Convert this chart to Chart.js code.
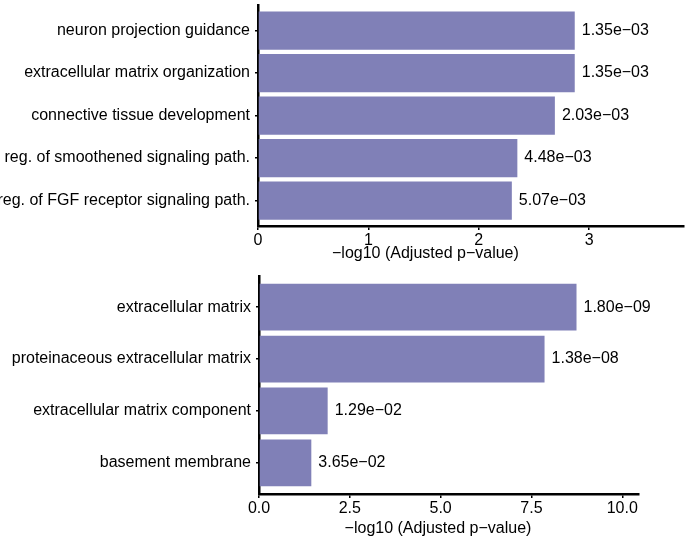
<!DOCTYPE html>
<html>
<head>
<meta charset="utf-8">
<script src="https://cdn.jsdelivr.net/npm/chart.js@4"></script>
<style>
  html, body { margin: 0; padding: 0; background: #fff; }
  #wrap { position: relative; width: 691px; height: 543px; }
  .box { position: absolute; left: 0; width: 691px; }
  #box-bp { top: 0; height: 270px; }
  #box-cc { top: 270px; height: 273px; }
</style>
</head>
<body>
<div id="wrap">
  <div class="box" id="box-bp"><canvas id="chart-bp"></canvas></div>
  <div class="box" id="box-cc"><canvas id="chart-cc"></canvas></div>
</div>
<script>
// ── Data ──────────────────────────────────────────────────────
const BP_TERMS  = ['neuron projection guidance', 'extracellular matrix organization', 'connective tissue development',
                   'reg. of smoothened signaling path.', 'reg. of FGF receptor signaling path.'];
const BP_SCORES = [2.87, 2.87, 2.69, 2.35, 2.30];          // −log10 adj. p
const BP_PVALS  = ['1.35e−03', '1.35e−03', '2.03e−03', '4.48e−03', '5.07e−03'];
const BP_TICKS  = [0, 1, 2, 3];

const CC_TERMS  = ['extracellular matrix', 'proteinaceous extracellular matrix',
                   'extracellular matrix component', 'basement membrane'];
const CC_SCORES = [8.74, 7.86, 1.89, 1.44];
const CC_PVALS  = ['1.80e−09', '1.38e−08', '1.29e−02', '3.65e−02'];
const CC_TICKS  = [0, 2.5, 5, 7.5, 10];

const X_TITLE = '−log10 (Adjusted p−value)';

const FONT = { family: "'Liberation Sans', Arial, Helvetica, sans-serif", size: 16 };
const BAR_COLOR = '#8080b7';

// ── Plugins: p-value labels + offset axis title ───────────────
const pvalLabels = {
  id: 'pvalLabels',
  afterDatasetsDraw(chart) {
    const ctx = chart.ctx;
    const texts = chart.options.plugins.pvalLabels.texts;
    const meta = chart.getDatasetMeta(0);
    ctx.save();
    ctx.font = `${FONT.size}px ${FONT.family}`;
    ctx.fillStyle = '#000';
    ctx.textAlign = 'left';
    ctx.textBaseline = 'middle';
    meta.data.forEach((bar, i) => ctx.fillText(texts[i], bar.x + 7, bar.y));
    ctx.restore();
  }
};

const xTitle = {
  id: 'xTitle',
  afterDraw(chart) {
    const o = chart.options.plugins.xTitle;
    const a = chart.chartArea;
    const ctx = chart.ctx;
    ctx.save();
    ctx.font = `${FONT.size}px ${FONT.family}`;
    ctx.fillStyle = '#000';
    ctx.textAlign = 'center';
    ctx.textBaseline = 'middle';
    ctx.fillText(o.text, a.left + (a.right - a.left) * o.at, a.bottom + o.dy);
    ctx.restore();
  }
};

function noEdgePadding(s) {
  s.paddingTop = 0; s.paddingBottom = 0; s.paddingLeft = 0; s.paddingRight = 0;
}

// ── Chart builder ─────────────────────────────────────────────
function buildChart(id, terms, scores, pvals, ticks, opts) {
  const ctx = document.getElementById(id);
  return new Chart(ctx, {
    type: 'bar',
    data: {
      datasets: [{
        data: scores.map((v, i) => ({ x: v, y: i })),
        backgroundColor: BAR_COLOR,
        borderWidth: 0,
        barPercentage: 0.9,
        categoryPercentage: 1
      }]
    },
    plugins: [pvalLabels, xTitle],
    options: {
      indexAxis: 'y',
      responsive: true,
      maintainAspectRatio: false,
      animation: false,
      layout: { padding: { top: opts.padTop, right: opts.padRight, left: 0, bottom: 0 } },
      plugins: {
        legend: { display: false },
        tooltip: { enabled: false },
        pvalLabels: { texts: pvals },
        xTitle: { text: X_TITLE, at: opts.titleAt, dy: opts.titleDy }
      },
      scales: {
        x: {
          type: 'linear',
          min: 0,
          max: opts.xMax,
          afterBuildTicks: s => { s.ticks = ticks.map(v => ({ value: v })); },
          afterFit: s => { s.height = opts.xHeight; noEdgePadding(s); },
          border: { color: '#000', width: 2.5 },
          grid: { drawOnChartArea: false, color: '#000', lineWidth: 1.5, tickLength: 4 },
          ticks: { color: '#000', font: FONT, padding: 1, callback: opts.fmt }
        },
        y: {
          type: 'linear',
          reverse: true,
          offset: false,
          min: -0.6,
          max: terms.length - 0.4,
          afterBuildTicks: s => { s.ticks = terms.map((_, i) => ({ value: i })); },
          afterFit: s => { s.width = opts.yWidth; noEdgePadding(s); },
          border: { color: '#000', width: 2.5 },
          grid: { offset: false, drawOnChartArea: false, color: '#000', lineWidth: 1.5, tickLength: 3 },
          ticks: { color: '#000', font: FONT, padding: 5, autoSkip: false, callback: v => terms[v] }
        }
      }
    }
  });
}

buildChart('chart-bp', BP_TERMS, BP_SCORES, BP_PVALS, BP_TICKS, {
  padTop: 5, padRight: 7, xMax: 3.86, xHeight: 44, yWidth: 258,
  titleAt: 0.393, titleDy: 28, fmt: v => String(v)
});

buildChart('chart-cc', CC_TERMS, CC_SCORES, CC_PVALS, CC_TICKS, {
  padTop: 6, padRight: 52, xMax: 10.46, xHeight: 49, yWidth: 259,
  titleAt: 0.471, titleDy: 35, fmt: v => v.toFixed(1)
});
</script>
</body>
</html>
